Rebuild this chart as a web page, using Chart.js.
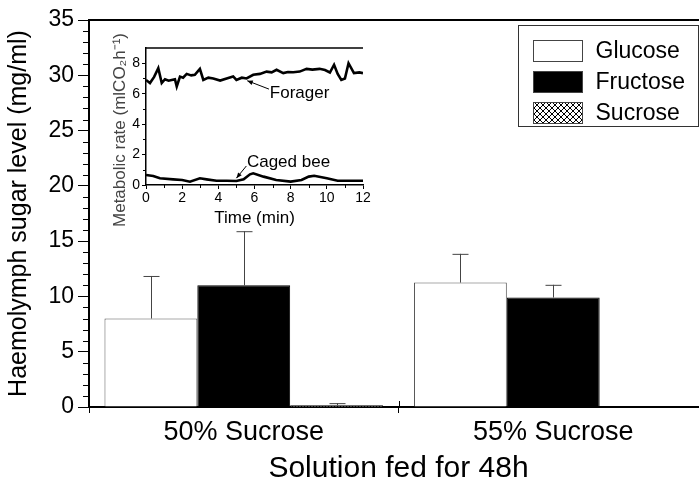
<!DOCTYPE html>
<html>
<head>
<meta charset="utf-8">
<script src="https://cdn.jsdelivr.net/npm/chart.js@4.4.1/dist/chart.umd.min.js"></script>
<style>
  html, body { margin: 0; padding: 0; background: #fff; overflow: hidden; }
  #wrap { position: relative; width: 699px; height: 484px; overflow: hidden; }
  #main { position: absolute; left: 0; top: 0; }
  #inset { position: absolute; left: 100px; top: 30px; }
</style>
</head>
<body>
<div id="wrap">
  <canvas id="main" width="708" height="484"></canvas>
  <canvas id="inset" width="275" height="200"></canvas>
</div>
<script>
// main bar chart
const groups = ["50% Sucrose", "55% Sucrose"];
const seriesNames = ["Glucose", "Fructose", "Sucrose"];
const glucose = [8.0, 11.25];
const glucoseErr = [3.85, 2.6];
const fructose = [11.0, 9.9];
const fructoseErr = [4.9, 1.15];
const sucrose = [0.15, 0];
const sucroseErr = [0.2, 0];

// inset: metabolic rate traces
const foragerTime = [0, 0.22, 0.45, 0.68, 0.87, 1.05, 1.25, 1.42, 1.6, 1.7, 1.88, 2.05, 2.25, 2.5, 2.7, 2.98, 3.17, 3.45, 3.72, 4.1, 4.46, 4.82, 5.0, 5.3, 5.56, 5.93, 6.3, 6.67, 6.95, 7.22, 7.59, 7.85, 8.14, 8.5, 8.88, 9.2, 9.6, 9.9, 10.17, 10.4, 10.6, 10.8, 11.0, 11.2, 11.5, 11.8, 12];
const foragerRate = [6.9, 6.7, 7.1, 7.68, 6.7, 6.95, 6.85, 6.9, 6.95, 6.47, 7.12, 7.05, 7.3, 7.2, 7.24, 7.63, 6.9, 7.05, 7.0, 6.86, 7.0, 7.13, 6.9, 7.05, 7.0, 7.24, 7.3, 7.45, 7.4, 7.57, 7.35, 7.42, 7.41, 7.45, 7.63, 7.58, 7.63, 7.55, 7.39, 7.9, 7.3, 6.9, 7.0, 8.0, 7.35, 7.4, 7.35];
const cagedTime = [0, 0.4, 0.77, 1.5, 2.0, 2.43, 2.98, 3.35, 3.9, 4.46, 5.0, 5.4, 5.75, 5.93, 6.5, 7.2, 8.0, 8.6, 9.0, 9.3, 10.0, 10.6, 11.5, 12];
const cagedRate = [0.66, 0.59, 0.44, 0.37, 0.33, 0.22, 0.44, 0.37, 0.28, 0.28, 0.26, 0.37, 0.7, 0.77, 0.55, 0.33, 0.22, 0.33, 0.55, 0.61, 0.44, 0.28, 0.28, 0.28];
const traceNames = ["Forager", "Caged bee"];
const insetYTitle = "Metabolic rate (mlCO₂h⁻¹)";

const FONT = "'Liberation Sans', Arial, sans-serif";

function crossHatch() {
  const c = document.createElement("canvas");
  c.width = 6;
  c.height = 6;
  const g = c.getContext("2d");
  g.fillStyle = "#fff";
  g.fillRect(0, 0, 6, 6);
  g.strokeStyle = "#000";
  g.lineWidth = 1;
  g.beginPath();
  g.moveTo(0, 0); g.lineTo(6, 6);
  g.moveTo(6, 0); g.lineTo(0, 6);
  g.stroke();
  return g.createPattern(c, "repeat");
}
const hatch = crossHatch();

const errorBars = {
  id: "errorBars",
  afterDatasetsDraw(chart) {
    const ctx = chart.ctx;
    const y = chart.scales.y;
    ctx.save();
    ctx.strokeStyle = "#444";
    ctx.lineWidth = 1;
    chart.data.datasets.forEach((ds, di) => {
      chart.getDatasetMeta(di).data.forEach((bar, i) => {
        const err = ds.errors[i];
        if (!err) return;
        const top = y.getPixelForValue(ds.data[i] + err);
        const x = Math.round(bar.x) + 0.5;
        ctx.beginPath();
        ctx.moveTo(x, bar.y);
        ctx.lineTo(x, top);
        ctx.moveTo(x - 8, top + 0.5);
        ctx.lineTo(x + 8, top + 0.5);
        ctx.stroke();
      });
    });
    ctx.restore();
  },
};

const frameTicks = {
  id: "frameTicks",
  afterDraw(chart) {
    const ctx = chart.ctx;
    const area = chart.chartArea;
    const y = chart.scales.y;
    const x = chart.scales.x;
    ctx.save();
    ctx.strokeStyle = "#000";
    // top border
    ctx.lineWidth = 2;
    ctx.beginPath();
    ctx.moveTo(area.left, area.top);
    ctx.lineTo(area.right, area.top);
    ctx.stroke();
    // minor y ticks
    ctx.lineWidth = 1;
    ctx.beginPath();
    for (let v = y.min; v <= y.max; v += 1) {
      if (v % 5 === 0) continue;
      const py = Math.round(y.getPixelForValue(v)) + 0.5;
      ctx.moveTo(area.left - 6, py);
      ctx.lineTo(area.left, py);
    }
    // category separators crossing the axis
    for (let i = 0; i < groups.length - 1; i++) {
      const px = Math.round((x.getPixelForValue(i) + x.getPixelForValue(i + 1)) / 2) + 0.5;
      ctx.moveTo(px, area.bottom - 6);
      ctx.lineTo(px, area.bottom);
    }
    ctx.stroke();
    ctx.restore();
  },
};

const boxLegend = {
  id: "boxLegend",
  afterDraw(chart) {
    const ctx = chart.ctx;
    const area = chart.chartArea;
    const bx = area.left + 429.5;
    const by = area.top + 5.5;
    ctx.save();
    ctx.strokeStyle = "#333";
    ctx.lineWidth = 1;
    ctx.fillStyle = "#fff";
    ctx.fillRect(bx, by, 180, 101);
    ctx.strokeRect(bx, by, 180, 101);
    ctx.font = "23px " + FONT;
    ctx.textBaseline = "middle";
    chart.data.datasets.forEach((ds, i) => {
      const cy = by + 25 + i * 31;
      ctx.fillStyle = ds.backgroundColor;
      ctx.fillRect(bx + 15, cy - 10, 49, 21);
      ctx.strokeStyle = "#444";
      ctx.strokeRect(bx + 15, cy - 10, 49, 21);
      ctx.fillStyle = "#000";
      ctx.fillText(ds.label, bx + 77, cy + 1);
    });
    ctx.restore();
  },
};

new Chart(document.getElementById("main"), {
  type: "bar",
  data: {
    labels: groups,
    datasets: [
      { label: seriesNames[0], data: glucose, errors: glucoseErr, backgroundColor: "#fff", borderColor: "#555", borderWidth: 1 },
      { label: seriesNames[1], data: fructose, errors: fructoseErr, backgroundColor: "#000", borderColor: "#000", borderWidth: 1 },
      { label: seriesNames[2], data: sucrose, errors: sucroseErr, backgroundColor: hatch, borderColor: "#000", borderWidth: 1 },
    ],
  },
  options: {
    responsive: false,
    animation: false,
    events: [],
    layout: { padding: { top: 20, right: 0, left: 0, bottom: 0 } },
    datasets: { bar: { categoryPercentage: 0.9, barPercentage: 1.0 } },
    plugins: { legend: { display: false }, tooltip: { enabled: false } },
    scales: {
      x: {
        grid: { drawOnChartArea: false, tickLength: 6, color: "#000", offset: true },
        border: { color: "#000", width: 2 },
        ticks: { color: "#000", font: { family: FONT, size: 27, lineHeight: 1 }, padding: 6 },
        title: { display: true, text: "Solution fed for 48h", color: "#000", font: { family: FONT, size: 30, lineHeight: 1 }, padding: { top: 0, bottom: 0 } },
        afterFit(scale) { scale.height = 77; },
      },
      y: {
        min: 0,
        max: 35,
        ticks: { stepSize: 5, color: "#000", font: { family: FONT, size: 23 }, padding: 4 },
        grid: { drawOnChartArea: false, tickLength: 11, color: "#000" },
        border: { color: "#000", width: 2 },
        title: { display: true, text: "Haemolymph sugar level (mg/ml)", color: "#000", font: { family: FONT, size: 25 }, padding: { top: 4, bottom: 4 } },
        afterFit(scale) { scale.width = 89; },
      },
    },
  },
  plugins: [errorBars, frameTicks, boxLegend],
});

// inset chart
const insetAnnotations = {
  id: "insetAnnotations",
  afterDraw(chart) {
    const ctx = chart.ctx;
    const x = chart.scales.x;
    const y = chart.scales.y;
    const area = chart.chartArea;
    ctx.save();
    ctx.strokeStyle = "#000";
    ctx.lineWidth = 1.5;
    ctx.beginPath();
    ctx.moveTo(area.left, area.top);
    ctx.lineTo(area.right, area.top);
    ctx.stroke();
    // minor ticks
    ctx.lineWidth = 1;
    ctx.beginPath();
    for (let v = 1; v < x.max; v += 2) {
      const px = Math.round(x.getPixelForValue(v)) + 0.5;
      ctx.moveTo(px, area.bottom);
      ctx.lineTo(px, area.bottom + 3);
    }
    for (let v = 1; v < y.max; v += 2) {
      const py = Math.round(y.getPixelForValue(v)) + 0.5;
      ctx.moveTo(area.left - 3, py);
      ctx.lineTo(area.left, py);
    }
    ctx.stroke();
    // y title, sits a little below the axis middle
    ctx.save();
    ctx.translate(20, 100);
    ctx.rotate(-Math.PI / 2);
    ctx.font = "17px " + FONT;
    ctx.fillStyle = "#444";
    ctx.textAlign = "center";
    ctx.textBaseline = "middle";
    ctx.fillText(insetYTitle, 0, 0);
    ctx.restore();
    // labels with arrows
    ctx.font = "17px " + FONT;
    ctx.fillStyle = "#000";
    ctx.textBaseline = "middle";
    const notes = [
      { text: traceNames[0], at: [6.85, 6.0], from: [6.8, 6.3], to: [5.6, 6.85] },
      { text: traceNames[1], at: [5.58, 1.5], from: [5.55, 1.25], to: [5.0, 0.45] },
    ];
    notes.forEach((n) => {
      ctx.fillText(n.text, x.getPixelForValue(n.at[0]), y.getPixelForValue(n.at[1]));
      const x1 = x.getPixelForValue(n.from[0]);
      const y1 = y.getPixelForValue(n.from[1]);
      const x2 = x.getPixelForValue(n.to[0]);
      const y2 = y.getPixelForValue(n.to[1]);
      ctx.lineWidth = 1;
      ctx.beginPath();
      ctx.moveTo(x1, y1);
      ctx.lineTo(x2, y2);
      ctx.stroke();
      const a = Math.atan2(y2 - y1, x2 - x1);
      ctx.beginPath();
      ctx.moveTo(x2, y2);
      ctx.lineTo(x2 - 6 * Math.cos(a - 0.4), y2 - 6 * Math.sin(a - 0.4));
      ctx.lineTo(x2 - 6 * Math.cos(a + 0.4), y2 - 6 * Math.sin(a + 0.4));
      ctx.closePath();
      ctx.fill();
    });
    ctx.restore();
  },
};

new Chart(document.getElementById("inset"), {
  type: "line",
  data: {
    datasets: [
      { label: traceNames[0], data: foragerTime.map((t, i) => ({ x: t, y: foragerRate[i] })), borderColor: "#000", borderWidth: 2.6, pointRadius: 0, tension: 0 },
      { label: traceNames[1], data: cagedTime.map((t, i) => ({ x: t, y: cagedRate[i] })), borderColor: "#000", borderWidth: 2.6, pointRadius: 0, tension: 0 },
    ],
  },
  options: {
    responsive: false,
    animation: false,
    events: [],
    layout: { padding: { top: 18, right: 12, left: 0, bottom: 0 } },
    plugins: { legend: { display: false }, tooltip: { enabled: false } },
    scales: {
      x: {
        type: "linear",
        min: 0,
        max: 12,
        ticks: { stepSize: 2, color: "#000", font: { family: FONT, size: 14 }, padding: 1 },
        grid: { drawOnChartArea: false, tickLength: 4, color: "#000" },
        border: { color: "#000", width: 1.5 },
        title: { display: true, text: "Time (min)", color: "#000", font: { family: FONT, size: 17 }, padding: { top: 0, bottom: 1 } },
        afterFit(scale) { scale.height = 45; },
      },
      y: {
        min: 0,
        max: 9,
        afterBuildTicks(scale) { scale.ticks = scale.ticks.filter((t) => t.value % 2 === 0); },
        ticks: { stepSize: 2, color: "#000", font: { family: FONT, size: 14 }, padding: 2 },
        grid: { drawOnChartArea: false, tickLength: 4, color: "#000" },
        border: { color: "#000", width: 1.5 },
        afterFit(scale) { scale.width = 46; },
      },
    },
  },
  plugins: [insetAnnotations],
});
</script>
</body>
</html>
